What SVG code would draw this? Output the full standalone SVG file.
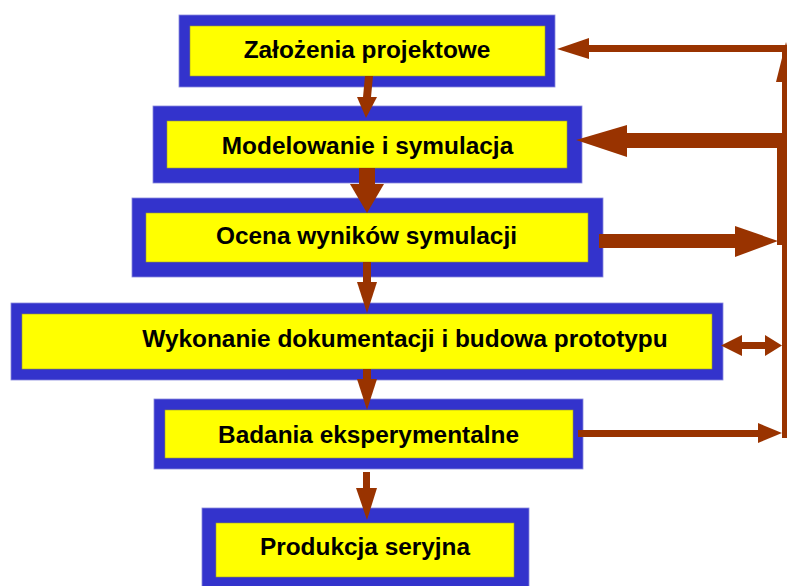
<svg xmlns="http://www.w3.org/2000/svg" width="787" height="586" viewBox="0 0 787 586">
<style>
.outer{fill:#3333CC;stroke:#8888DD;stroke-width:0.8}
.inner{fill:#FFFF00;stroke:#999933;stroke-width:0.6}
.lbl{font-family:"Liberation Sans",Arial,sans-serif;font-weight:bold;font-size:24.4px;fill:#000;text-anchor:middle}
.arr{fill:#993300}
</style>
<rect width="787" height="586" fill="#fff"/>
<g id="n1">
<rect class="outer" x="179" y="15" width="376" height="72"/>
<rect class="inner" x="190" y="26" width="355" height="50"/>
<text class="lbl" x="367" y="58">Założenia projektowe</text>
</g>
<g id="n2">
<rect class="outer" x="153" y="106" width="429" height="77"/>
<rect class="inner" x="167" y="121" width="400" height="47"/>
<text class="lbl" x="367.5" y="154">Modelowanie i symulacja</text>
</g>
<g id="n3">
<rect class="outer" x="132" y="198" width="471" height="79"/>
<rect class="inner" x="146" y="213" width="442" height="49"/>
<text class="lbl" x="366.5" y="244">Ocena wyników symulacji</text>
</g>
<g id="n4">
<rect class="outer" x="11" y="303" width="712" height="77"/>
<rect class="inner" x="22" y="314" width="690" height="55"/>
<text class="lbl" x="405" y="347">Wykonanie dokumentacji i budowa prototypu</text>
</g>
<g id="n5">
<rect class="outer" x="154" y="399" width="429" height="70"/>
<rect class="inner" x="165" y="410" width="408" height="48"/>
<text class="lbl" x="368.5" y="443">Badania eksperymentalne</text>
</g>
<g id="n6">
<rect class="outer" x="202" y="508" width="327" height="90"/>
<rect class="inner" x="216" y="523" width="298" height="54"/>
<text class="lbl" x="365" y="555">Produkcja seryjna</text>
</g>
<g id="connectors" class="arr">
<polygon points="365,76 373,76 371,97 363,97"/>
<polygon points="357,97 377,97 366,118"/>
<rect x="359" y="168" width="16" height="16"/>
<polygon points="350,184 384,184 367,213"/>
<rect x="363" y="262" width="8" height="20"/>
<polygon points="357,282 377,282 367,313"/>
<rect x="363" y="369" width="8" height="11"/>
<polygon points="357,379 377,379 367,410"/>
<rect x="363" y="472" width="7" height="16"/>
<polygon points="356,488 377,488 367,520"/>
<rect x="589" y="45" width="201" height="7"/>
<polygon points="557,49 589,38 589,59"/>
<polygon points="776,82 796,82 786,42"/>
<rect x="782" y="52" width="8" height="386"/>
<rect x="777" y="137" width="18" height="108"/>
<rect x="627" y="133" width="160" height="15"/>
<polygon points="576,140 627,125 627,157"/>
<rect x="599" y="234" width="136" height="14"/>
<polygon points="735,226 735,257 778,241"/>
<rect x="742" y="342" width="23" height="7"/>
<polygon points="721,345.5 742,335 742,356"/>
<polygon points="765,335 765,356 782,345.5"/>
<rect x="578" y="430" width="180" height="7"/>
<polygon points="758,423 758,443 782,433"/>
</g>
</svg>
